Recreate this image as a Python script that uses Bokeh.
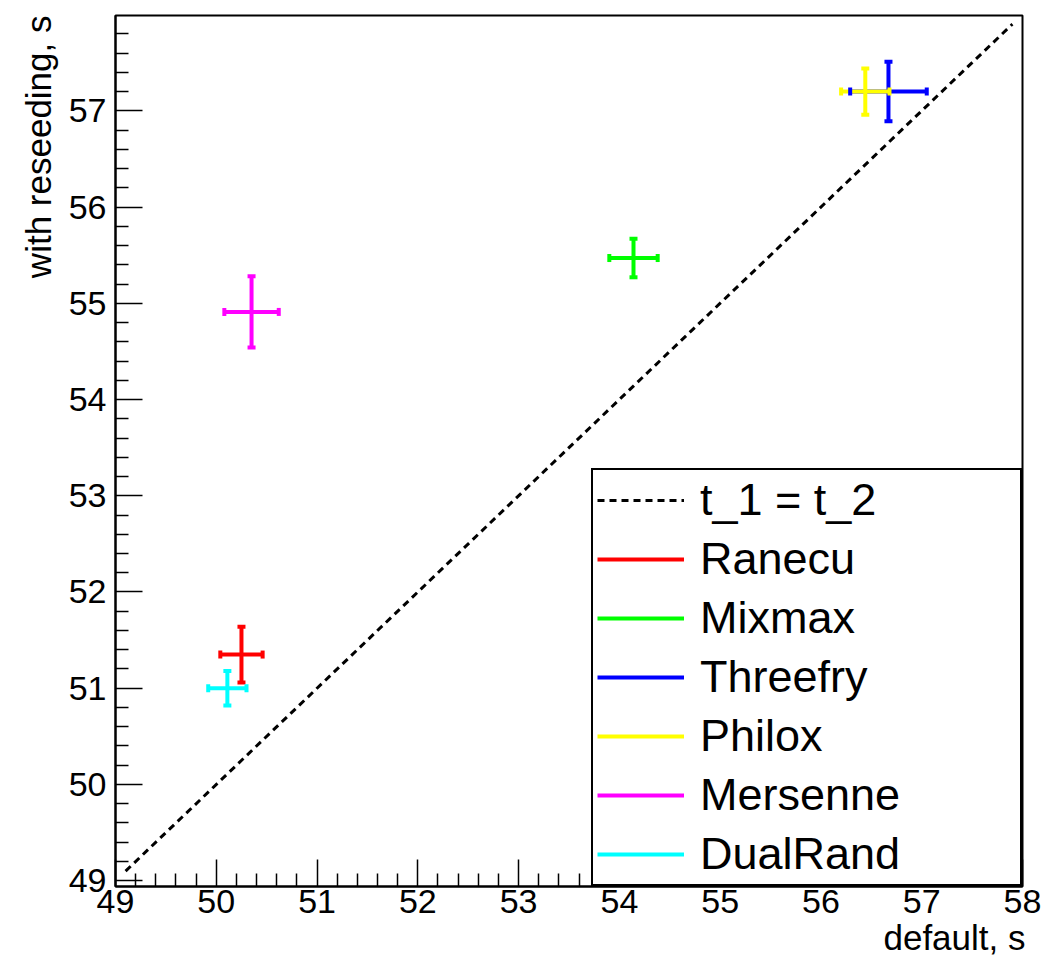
import numpy as np
from bokeh.plotting import figure
from bokeh.models import (ColumnDataSource, Whisker, TeeHead, FixedTicker,
                          Legend, LegendItem, Range1d, Title)
from bokeh.embed import file_html
from bokeh.resources import INLINE

# ---- data ----
names = ["Ranecu", "Mixmax", "Threefry", "Philox", "Mersenne", "DualRand"]
colors = ["#ff0000", "#00ff00", "#0000ff", "#ffff00", "#ff00ff", "#00ffff"]
t_default = [50.25, 54.14, 56.67, 56.44, 50.35, 50.11]
t_default_err = [0.21, 0.24, 0.38, 0.24, 0.27, 0.19]
t_reseed = [51.35, 55.47, 57.20, 57.20, 54.91, 51.00]
t_reseed_err = [0.29, 0.20, 0.31, 0.24, 0.37, 0.18]
diag = [49.1, 57.9]
x_ticks = [49, 50, 51, 52, 53, 54, 55, 56, 57, 58]
y_ticks = [49, 50, 51, 52, 53, 54, 55, 56, 57, 58]
x_title = "default, s"
y_title = "with reseeding, s"

FONT = "Liberation Sans"

p = figure(width=1044, height=965,
           x_range=Range1d(49, 58.0), y_range=Range1d(48.94, 57.99),
           output_backend="svg", toolbar_location=None,
           min_border_left=115, min_border_right=22,
           min_border_top=15, min_border_bottom=79)
p.grid.visible = False
p.outline_line_color = "black"
p.outline_line_width = 2
p.outline_line_alpha = 1
p.background_fill_color = "white"
p.border_fill_color = "white"

# diagonal t1 = t2
diag_r = p.line(diag, diag, line_color="black", line_width=3, line_dash="7 5")

items = [LegendItem(label="t_1 = t_2", renderers=[diag_r])]

for i, name in enumerate(names):
    c = colors[i]
    x, xe = t_default[i], t_default_err[i]
    y, ye = t_reseed[i], t_reseed_err[i]
    seg = ColumnDataSource(dict(
        x0=[x - xe, x], y0=[y, y - ye],
        x1=[x + xe, x], y1=[y, y + ye]))
    r = p.segment("x0", "y0", "x1", "y1", source=seg, line_color=c, line_width=4)
    src = ColumnDataSource(dict(x=[x], y=[y], xl=[x - xe], xu=[x + xe],
                                yl=[y - ye], yu=[y + ye]))
    wx = Whisker(source=src, base="y", lower="xl", upper="xu", dimension="width",
                 line_alpha=0, level="glyph",
                 upper_head=TeeHead(size=8, line_color=c, line_width=4),
                 lower_head=TeeHead(size=8, line_color=c, line_width=4))
    wy = Whisker(source=src, base="x", lower="yl", upper="yu", dimension="height",
                 line_alpha=0, level="glyph",
                 upper_head=TeeHead(size=8, line_color=c, line_width=4),
                 lower_head=TeeHead(size=8, line_color=c, line_width=4))
    p.add_layout(wx)
    p.add_layout(wy)
    items.append(LegendItem(label=name, renderers=[r]))

# ---- axes ----
minor = [round(v, 1) for v in np.arange(49.0, 58.01, 0.2) if abs(v - round(v)) > 1e-6]
p.xaxis.ticker = FixedTicker(ticks=x_ticks, minor_ticks=minor)
p.yaxis.ticker = FixedTicker(ticks=y_ticks, minor_ticks=minor)
for ax in (p.xaxis[0], p.yaxis[0]):
    ax.major_tick_in = 27
    ax.major_tick_out = 0
    ax.minor_tick_in = 13
    ax.minor_tick_out = 0
    ax.axis_line_width = 2
    ax.axis_line_color = "black"
    ax.major_tick_line_width = 1.5
    ax.minor_tick_line_width = 1.5
    ax.major_tick_line_color = "black"
    ax.minor_tick_line_color = "black"
    ax.major_label_text_font = FONT
    ax.major_label_text_font_size = "34px"
    ax.major_label_text_color = "black"

p.xaxis.major_label_standoff = 3
p.yaxis.major_label_standoff = 9

# axis titles (ROOT style, aligned to the axis end)
p.add_layout(Title(text=x_title, align="right", text_font=FONT,
                   text_font_size="35px", text_font_style="normal",
                   text_color="black", standoff=0, offset=-3), "below")
p.add_layout(Title(text=y_title, align="right", text_font=FONT,
                   text_font_size="35px", text_font_style="normal",
                   text_color="black", standoff=16, offset=0), "left")

legend = Legend(items=items, location="bottom_right", margin=0, padding=4,
                spacing=7, glyph_width=87, glyph_height=50, label_height=50,
                label_width=316, label_standoff=16,
                label_text_font=FONT, label_text_font_size="45px",
                label_text_color="black",
                border_line_color="black", border_line_width=2,
                border_line_alpha=1,
                background_fill_color="white", background_fill_alpha=1)
p.add_layout(legend)

open("out.html", "w").write(file_html(p, INLINE))
